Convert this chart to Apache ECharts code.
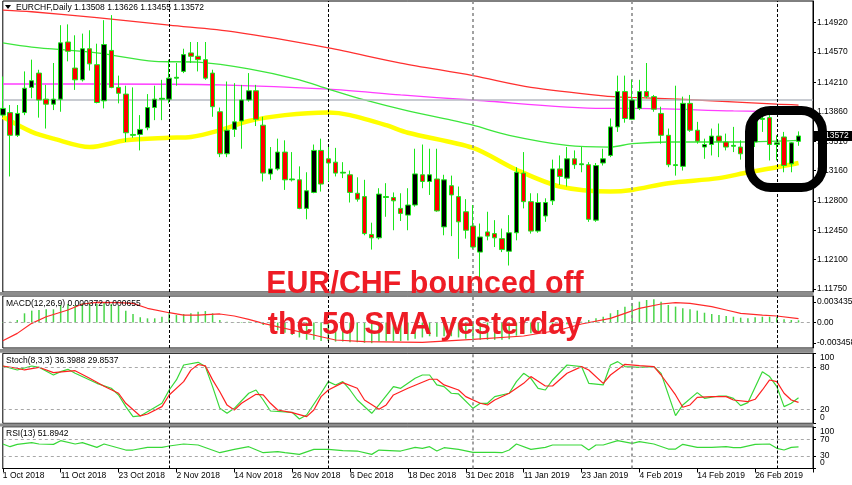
<!DOCTYPE html>
<html><head><meta charset="utf-8">
<script src="https://cdn.jsdelivr.net/npm/echarts@6/dist/echarts.min.js"></script>
<style>html,body{margin:0;padding:0;background:#fff}#c{width:852px;height:485px}</style>
</head><body><div id="c"></div>
<script>
// ---- trading days shown (category axis) ----
const monthDays = [
  ['Oct', 2018, [1,2,3,4,5,8,9,10,11,12,15,16,17,18,19,22,23,24,25,26,29,30,31]],
  ['Nov', 2018, [1,2,5,6,7,8,9,12,13,14,15,16,19,20,21,22,23,26,27,28,29,30]],
  ['Dec', 2018, [3,4,5,6,7,10,11,12,13,14,17,18,19,20,21,24,26,27,28,31]],
  ['Jan', 2019, [2,3,4,7,8,9,10,11,14,15,16,17,18,21,22,23,24,25,28,29,30,31]],
  ['Feb', 2019, [1,4,5,6,7,8,11,12,13,14,15,18,19,20,21,22,25,26,27,28]],
  ['Mar', 2019, [1,4,5,6]]
];
const dates = [];
monthDays.forEach(([m, y, days]) => days.forEach(d => dates.push(d + ' ' + m + ' ' + y)));
const categories = dates.concat(['', '']);   // chart shift on the right

// ---- EURCHF daily OHLC ----
const open = [1.1382,1.1385,1.1358,1.1385,1.1415,1.1432,1.1401,1.1395,1.1401,1.1469,
1.1438,1.1424,1.1461,1.1442,1.1399,1.1459,1.1415,1.1407,1.1358,1.1359,
1.1367,1.1391,1.1401,1.1401,1.1426,1.1434,1.1456,1.1452,1.1448,1.1432,
1.1386,1.1336,1.1365,1.1375,1.1400,1.1411,1.1370,1.1312,1.1318,1.1338,
1.1305,1.1305,1.1271,1.1290,1.1340,1.1330,1.1326,1.1313,1.1311,1.1289,
1.1285,1.1240,1.1236,1.1284,1.1284,1.1271,1.1263,1.1275,1.1311,1.1303,
1.1306,1.1249,1.1298,1.1285,1.1267,1.1250,1.1219,1.1243,1.1241,1.1235,
1.1220,1.1242,1.1313,1.1279,1.1244,1.1262,1.1280,1.1318,1.1307,1.1330,
1.1323,1.1323,1.1257,1.1325,1.1334,1.1368,1.1410,1.1377,1.1390,1.1410,
1.1404,1.1384,1.1358,1.1322,1.1321,1.1396,1.1364,1.1344,1.1347,1.1357,
1.1350,1.1345,1.1344,1.1336,1.1350,1.1377,1.1379,1.1347,1.1356,1.1324,
1.13508];
const high = [1.1428,1.1394,1.1394,1.1434,1.1448,1.1436,1.1418,1.1444,1.1489,1.1490,
1.1477,1.1479,1.1483,1.1467,1.1495,1.1501,1.1429,1.1417,1.1415,1.1382,
1.1407,1.1417,1.1424,1.1448,1.1444,1.1461,1.1469,1.1469,1.1469,1.1436,
1.1391,1.1422,1.1420,1.1418,1.1432,1.1418,1.1380,1.1344,1.1354,1.1352,
1.1338,1.1321,1.1314,1.1347,1.1354,1.1344,1.1343,1.1326,1.1316,1.1308,
1.1305,1.1254,1.1295,1.1301,1.1290,1.1289,1.1295,1.1342,1.1347,1.1342,
1.1342,1.1311,1.1310,1.1297,1.1282,1.1275,1.1253,1.1267,1.1257,1.1247,
1.1263,1.1320,1.1338,1.1289,1.1289,1.1283,1.1329,1.1334,1.1344,1.1340,
1.1344,1.1326,1.1325,1.1342,1.1378,1.1429,1.1429,1.1424,1.1424,1.1444,
1.1406,1.1392,1.1366,1.1417,1.1404,1.1406,1.1374,1.1354,1.1366,1.1372,
1.1360,1.1368,1.1352,1.1354,1.1380,1.1382,1.1382,1.1358,1.1362,1.1350,
1.13626];
const low = [1.1380,1.1309,1.1356,1.1382,1.1402,1.1379,1.1366,1.1388,1.1386,1.1446,
1.1412,1.1422,1.1435,1.1396,1.1390,1.1414,1.1396,1.1350,1.1355,1.1340,
1.1364,1.1376,1.1376,1.1396,1.1417,1.1432,1.1444,1.1434,1.1424,1.1380,
1.1332,1.1332,1.1356,1.1342,1.1398,1.1369,1.1303,1.1305,1.1316,1.1293,
1.1303,1.1270,1.1258,1.1289,1.1291,1.1303,1.1309,1.1307,1.1278,1.1279,
1.1239,1.1222,1.1234,1.1261,1.1245,1.1256,1.1245,1.1273,1.1295,1.1287,
1.1267,1.1239,1.1238,1.1211,1.1235,1.1223,1.1174,1.1233,1.1225,1.1219,
1.1203,1.1233,1.1271,1.1241,1.1242,1.1255,1.1275,1.1299,1.1297,1.1318,
1.1314,1.1255,1.1255,1.1322,1.1332,1.1362,1.1373,1.1376,1.1388,1.1402,
1.1386,1.1348,1.1320,1.1310,1.1316,1.1362,1.1348,1.1330,1.1334,1.1332,
1.1340,1.1338,1.1329,1.1332,1.1344,1.1362,1.1328,1.1328,1.1314,1.1314,
1.13455];
const close = [1.1390,1.1358,1.1384,1.1414,1.1423,1.1400,1.1395,1.1401,1.1468,1.1458,
1.1424,1.1461,1.1443,1.1397,1.1466,1.1415,1.1408,1.1361,1.1359,1.1365,
1.1391,1.1401,1.1402,1.1426,1.1427,1.1454,1.1452,1.1448,1.1426,1.1392,
1.1336,1.1364,1.1374,1.1400,1.1411,1.1377,1.1313,1.1318,1.1338,1.1305,
1.1306,1.1271,1.1292,1.1340,1.1300,1.1325,1.1313,1.1314,1.1290,1.1282,
1.1241,1.1236,1.1288,1.1285,1.1280,1.1265,1.1275,1.1312,1.1303,1.1311,
1.1268,1.1305,1.1287,1.1255,1.1245,1.1225,1.1237,1.1238,1.1236,1.1222,
1.1242,1.1314,1.1279,1.1244,1.1278,1.1278,1.1318,1.1309,1.1330,1.1323,
1.1324,1.1258,1.1322,1.1330,1.1368,1.1410,1.1378,1.1400,1.1410,1.1404,
1.1389,1.1358,1.1323,1.1323,1.1396,1.1364,1.1351,1.1347,1.1357,1.1351,
1.1344,1.1346,1.1336,1.1349,1.1378,1.1378,1.1347,1.1349,1.1322,1.1349,
1.13572];

// ---- moving averages [barIndex, price] read at their vertices ----
const maRed = [[0,1.1507],[4,1.1505],[13,1.1498],[23,1.1489],[32,1.1481],[45,1.1462],[55,1.1444],[65,1.1429],[73,1.1415],[83,1.1405],[87,1.1403],[96,1.1400],[107,1.1395],[110,1.1394]];
const maMagenta = [[0,1.1419],[13,1.1419],[30,1.1418],[45,1.1413],[55,1.1406],[65,1.1400],[83,1.1390],[87,1.1390],[101,1.1387],[110,1.1386]];
const maGreen = [[0,1.1468],[4,1.1463],[13,1.1456],[21,1.1446],[27,1.1445],[34,1.1437],[41,1.1424],[45,1.1413],[50,1.1400],[56,1.1387],[62,1.1376],[65,1.1370],[70,1.1358],[78,1.1346],[84,1.1344],[87,1.1348],[92,1.1350],[101,1.1350],[110,1.1352]];
const maYellow = [[0,1.1380],[4,1.1362],[7,1.1354],[12,1.1344],[17,1.1352],[23,1.1355],[26,1.1356],[30,1.1364],[34,1.1375],[39,1.1382],[45,1.1385],[48,1.1382],[53,1.1370],[56,1.1361],[65,1.1343],[71,1.1317],[77,1.1297],[84,1.1291],[87,1.1293],[92,1.1301],[99,1.1307],[103,1.1314],[107,1.1320],[110,1.1325]];

// ---- MACD(12,26,9) ----
const macdHist = [-0.0001,0.00014,0.00042,0.00154,0.00199,0.00210,0.00221,0.00221,0.00293,0.00310,
0.00293,0.00321,0.00333,0.00310,0.00333,0.00310,0.00277,0.00199,0.00143,0.00087,
0.00070,0.00070,0.00097,0.00154,0.00125,0.00143,0.00154,0.00182,0.00192,0.00154,
0.00042,0.00014,0.00003,0.00009,0.00014,0.00003,-0.0004,-0.0009,-0.0013,-0.0017,
-0.0021,-0.0025,-0.0029,-0.0029,-0.0031,-0.0031,-0.0032,-0.0032,-0.0033,-0.0033,
-0.0034,-0.00346,-0.0032,-0.0031,-0.0031,-0.0031,-0.0030,-0.0027,-0.0025,-0.0023,
-0.0024,-0.0023,-0.0023,-0.0025,-0.0027,-0.0028,-0.0029,-0.0029,-0.0029,-0.0029,
-0.0028,-0.0022,-0.0019,-0.0018,-0.0015,-0.0012,-0.0007,-0.0005,-0.0003,-0.0001,
0.00014,0.00042,0.00070,0.00097,0.00154,0.00210,0.00266,0.00321,0.00349,0.00377,
0.00388,0.00349,0.00293,0.00266,0.00238,0.00221,0.00199,0.00164,0.00143,0.00125,
0.00109,0.00097,0.00081,0.00070,0.00087,0.00097,0.00097,0.00087,0.00053,0.00042,
0.000372];
const macdSignal = [[0,-0.00305],[2,-0.00182],[4,-0.00014],[6,0.00097],[9,0.00210],[11,0.00310],[13,0.00338],[16,0.00333],[18,0.00321],[20,0.00238],[23,0.00164],[25,0.00125],[27,0.00125],[30,0.00143],[32,0.00109],[34,0.00053],[36,-0.00014],[44,-0.00238],[46,-0.00293],[50,-0.00321],[58,-0.00333],[65,-0.00282],[72,-0.00226],[77,-0.00125],[80,-0.00025],[84,0.00070],[86,0.00154],[88,0.00238],[91,0.00310],[93,0.00333],[95,0.00321],[98,0.00266],[100,0.00210],[102,0.00154],[105,0.00125],[107,0.00109],[110,0.000655]];

// ---- Stochastic(8,3,3) ----
const stochMain = [[0,81.9],[2,76.2],[4,81.9],[5,80],[7,69],[8,73.8],[9,77.1],[10,71.4],[13,57.1],[15,50],[16,40.5],[17,23.8],[18,9.5],[19,10.5],[22,28.6],[23,47.6],[24,61.9],[25,83.3],[27,87.1],[28,81],[29,52.4],[30,21.4],[31,14.3],[32,21.4],[34,42.9],[35,47.6],[36,33.3],[37,17.6],[40,15.7],[41,6.2],[42,11.9],[44,42.9],[45,59.5],[46,54.8],[47,59.5],[48,47.6],[49,33.3],[51,14.3],[52,26.2],[54,52.4],[55,50],[57,64.3],[58,69],[59,69],[60,54.8],[61,52.4],[62,42.9],[63,41.9],[65,21.4],[66,28.6],[67,28.6],[68,38.1],[70,42.9],[71,59.5],[72,71.4],[73,64.3],[74,50],[75,47.6],[76,61.9],[78,83.3],[80,81],[81,57.1],[83,54.8],[84,83.3],[85,88.1],[86,81],[88,80],[90,81],[91,71.4],[93,11],[94,26.2],[96,43.8],[97,35.7],[99,39],[100,39],[101,35.7],[102,25.2],[103,29.5],[105,73.8],[106,66.7],[107,52.4],[108,23.8],[109,28.6],[110,36.3988]];
const stochSignal = [[0,81.9],[2,78.6],[3,76.2],[5,80],[7,72.4],[10,75.2],[12,64.3],[14,53],[16,42.9],[17,28.6],[19,10.5],[20,13.3],[22,23.8],[23,40.5],[25,59.5],[26,76],[27,84],[28,82],[29,62],[30,45],[31,26],[32,19],[33,28.6],[35,41.4],[36,40.5],[37,28.6],[38,19],[40,15.2],[42,9.5],[43,19],[44,38.1],[45,47.6],[47,58.1],[49,50],[50,33.3],[52,20],[53,26.2],[54,40.5],[56,50],[59,62.9],[60,62.9],[61,54.8],[63,47.6],[64,38.1],[66,28.6],[67,26.2],[68,33.3],[70,42.9],[72,57.1],[73,66.7],[75,53.3],[76,53.3],[78,71.4],[80,81],[81,76.2],[83,57.1],[84,69],[86,84.3],[88,82.4],[90,81],[91,69],[93,40.5],[94,22.9],[95,26.2],[96,37.1],[98,38.1],[100,38.1],[101,33.3],[103,31],[104,34.3],[105,47.6],[106,61.9],[107,59.5],[108,42.9],[109,33.3],[110,29.8537]];

// ---- RSI(13) ----
const rsi = [[0,58.7],[1,52.3],[2,57.9],[4,61.9],[5,58.7],[7,57.9],[8,66.7],[10,58.7],[11,61.9],[13,50.7],[14,58.7],[17,44.3],[18,44.3],[20,50.7],[22,50.7],[23,53.9],[25,58.7],[27,56.3],[30,37.9],[32,45.9],[34,52.3],[36,37.9],[38,40.3],[39,37.9],[41,33.9],[43,45.9],[45,45.9],[47,42.7],[49,41.9],[51,33.9],[52,44.3],[55,41.9],[57,50.7],[58,48.3],[59,52.3],[60,41.9],[61,49.9],[63,45.9],[65,38.7],[68,38.7],[69,37.9],[70,44.3],[71,58.7],[73,45.9],[75,50.7],[76,56.3],[78,56.3],[80,56.3],[81,44.3],[82,56.3],[83,56.3],[85,66.7],[87,60.3],[88,64.3],[90,58.7],[92,46.7],[93,46.7],[94,57.9],[96,50.7],[98,50.7],[100,52.3],[101,49.9],[102,49.9],[104,57.9],[106,58.7],[107,48.3],[108,44.3],[109,50.7],[110,51.8942]];

// ---- ticks / levels / texts ----
const priceTicks = [1.14920,1.14570,1.14210,1.13860,1.13510,1.13160,1.12800,1.12450,1.12100,1.11750];
const macdTicks = [0.003435, 0, -0.003458];
const macdTickLabels = ['0.003435', '0.00', '-0.003458'];
const stochTicks = [100, 80, 20, 0];
const rsiTicks = [100, 70, 30, 0];
const stochLevels = [80, 20];
const rsiLevels = [70, 30];
const separatorBars = [23, 45, 65, 87, 107];
const separatorKinds = ['dark', 'dark', 'grey', 'grey', 'dark'];
const lastClose = close[close.length - 1];
const mainTitle = 'EURCHF,Daily 1.13508 1.13626 1.13455 1.13572';
const macdTitle = 'MACD(12,26,9) 0.000372 0.000655';
const stochTitle = 'Stoch(8,3,3) 36.3988 29.8537';
const rsiTitle = 'RSI(13) 51.8942';
const headline = ['EUR/CHF bounced off', 'the 50 SMA yesterday'];

// ---------------------------------------------------------------
const FONT = '"Liberation Sans", Arial, sans-serif';
const FS = 8.5;
const candles = open.map((o, i) => [o, close[i], low[i], high[i]]);

const sepLines = separatorBars.map((b, k) => ({
  xAxis: categories[b],
  lineStyle: separatorKinds[k] === 'dark'
    ? { color: '#000', type: [3, 2], width: 1 }
    : { color: '#8a8a8a', type: [3, 3], width: 1.6 }
}));
const levelLines = lv => lv.map(v => ({ yAxis: v, lineStyle: { color: '#a8a8a8', type: [3, 3], width: 1 } }));
const ml = data => ({ silent: true, symbol: ['none', 'none'], label: { show: false }, animation: false, data });

const L = 2.8, R = 39;
const grids = [
  { top: 1, height: 291 },
  { top: 296, height: 52 },
  { top: 353.3, height: 70 },
  { top: 426.8, height: 41.7 }
].map(g => Object.assign({ left: L, right: R, show: true, borderColor: '#000', borderWidth: 1, backgroundColor: '#fff',
  containLabel: false, outerBoundsMode: 'none' }, g));

const xAxes = [0, 1, 2, 3].map(g => ({
  type: 'category', gridIndex: g, data: categories, boundaryGap: false,
  axisLine: { show: g === 3, lineStyle: { color: '#000', width: 1 } },
  axisTick: { show: g === 3, interval: 7, length: 4, lineStyle: { color: '#000' } },
  axisLabel: { show: g === 3, interval: 7, align: 'left', fontSize: FS, color: '#000', margin: 3, fontFamily: FONT },
  splitLine: { show: false }
}));

const yBase = (g, extra) => Object.assign({
  type: 'value', gridIndex: g, position: 'right', splitLine: { show: false },
  axisLine: { show: true, lineStyle: { color: '#000', width: 1 } },
}, extra);

const labelCommon = { fontSize: FS, color: '#000', margin: 4, fontFamily: FONT, hideOverlap: false, showMinLabel: true, showMaxLabel: true };
const tickOf = vals => ({ show: true, length: 3, customValues: vals, lineStyle: { color: '#000' } });

const yAxes = [
  yBase(0, { min: 1.11715, max: 1.15178, axisTick: tickOf(priceTicks),
    axisLabel: Object.assign({ customValues: priceTicks, formatter: v => v.toFixed(5) }, labelCommon) }),
  yBase(1, { min: -0.00427, max: 0.00444, axisTick: tickOf(macdTicks),
    axisLabel: Object.assign({ customValues: macdTicks,
      formatter: v => { let best = 0; macdTicks.forEach((t, i) => { if (Math.abs(t - v) < Math.abs(macdTicks[best] - v)) best = i; }); return macdTickLabels[best]; } }, labelCommon) }),
  yBase(2, { min: 0, max: 100, axisTick: tickOf(stochTicks), axisLabel: { show: false } }),
  yBase(3, { min: 0, max: 100, axisTick: tickOf(rsiTicks), axisLabel: { show: false } })
];

const maLine = (data, color, width) => ({
  type: 'line', xAxisIndex: 0, yAxisIndex: 0, data, symbol: 'none', smooth: 0.3,
  lineStyle: { color, width }, z: 2, silent: true
});

const series = [
  maLine(maRed, '#ff3030', 1.3),
  maLine(maMagenta, '#ff3cff', 1.3),
  maLine(maGreen, '#3ce63c', 1.3),
  maLine(maYellow, '#ffff00', 4.5),
  {
    type: 'candlestick', xAxisIndex: 0, yAxisIndex: 0, data: candles, barWidth: 5, z: 5,
    itemStyle: { color: '#000', color0: '#ff0000', borderColor: '#19e619', borderColor0: '#19e619', borderColorDoji: '#19e619', borderWidth: 1 },
    markLine: ml([
      { yAxis: lastClose, lineStyle: { color: '#b6bac2', type: 'solid', width: 1.5 } }
    ].concat(sepLines))
  },
  {
    type: 'bar', xAxisIndex: 1, yAxisIndex: 1, data: macdHist, barWidth: 1.5, silent: true,
    itemStyle: { color: '#49d449' },
    markLine: ml(levelLines([0]).concat(sepLines))
  },
  { type: 'line', xAxisIndex: 1, yAxisIndex: 1, data: macdSignal, symbol: 'none', lineStyle: { color: '#ff2a2a', width: 1.2 }, silent: true },
  {
    type: 'line', xAxisIndex: 2, yAxisIndex: 2, data: stochMain, symbol: 'none', lineStyle: { color: '#38d838', width: 1.2 }, silent: true,
    markLine: ml(levelLines(stochLevels).concat(sepLines))
  },
  { type: 'line', xAxisIndex: 2, yAxisIndex: 2, data: stochSignal, symbol: 'none', lineStyle: { color: '#ff2020', width: 1.2 }, silent: true },
  {
    type: 'line', xAxisIndex: 3, yAxisIndex: 3, data: rsi, symbol: 'none', lineStyle: { color: '#38d838', width: 1.2 }, silent: true,
    markLine: ml(levelLines(rsiLevels).concat(sepLines))
  }
];

const smallText = (text, x, y, z) => ({
  type: 'text', x, y, z: z || 50, silent: true,
  style: { text, fill: '#000', fontSize: FS, fontFamily: FONT, verticalAlign: 'middle' }
});
const bigText = (text, y) => ({
  type: 'text', x: 425, y, z: 60, scaleX: 0.95, silent: true,
  style: { text, fill: '#ee1c25', fontSize: 32, fontWeight: 'bold', fontFamily: FONT, align: 'center', verticalAlign: 'middle' }
});
const band = (y, h) => ({ type: 'rect', z: 40, silent: true, shape: { x: 0, y, width: 813.5, height: h }, style: { fill: '#8c8c8c' } });

const chart = echarts.init(document.getElementById('c'));
chart.setOption({
  animation: false,
  backgroundColor: '#fff',
  grid: grids, xAxis: xAxes, yAxis: yAxes, series
});

// oscillator scale labels and bid tag, positioned through the axes
const bidY = chart.convertToPixel({ yAxisIndex: 0 }, lastClose);
const gridRight = 852 - R;
const labelX = gridRight + 7;
const oscLabels = [];
[[2, stochTicks], [3, rsiTicks]].forEach(([ax, ticks]) => ticks.forEach(v => {
  // MT4 pulls the 100 / 0 labels inside the pane
  const shift = v === 100 ? 4.5 : (v === 0 ? -5.5 : 0);
  const y = chart.convertToPixel({ yAxisIndex: ax }, v) + shift;
  oscLabels.push(smallText(String(v), labelX, y, 80));
}));

const graphic = [
  band(292, 3.5), band(349, 3.8), band(423.4, 3.2),
  { type: 'polygon', z: 50, silent: true, shape: { points: [[5, 5], [11, 5], [8, 9]] }, style: { fill: '#000' } },
  smallText(mainTitle, 16, 7.5),
  smallText(macdTitle, 6, 303.5),
  smallText(stochTitle, 6, 361),
  smallText(rsiTitle, 6, 433.5),
  { type: 'rect', z: 55, silent: true, shape: { x: gridRight, y: bidY - 5, width: 852 - gridRight, height: 10 }, style: { fill: '#000' } },
  { type: 'text', z: 56, silent: true, x: gridRight + 5, y: bidY,
    style: { text: lastClose.toFixed(5), fill: '#fff', fontSize: FS, fontFamily: FONT, verticalAlign: 'middle' } },
  bigText(headline[0], 284),
  bigText(headline[1], 325.5),
  { type: 'rect', z: 70, silent: true, shape: { x: 749.5, y: 110.5, width: 73, height: 77, r: 21 },
    style: { fill: 'none', stroke: '#000', lineWidth: 9 } }
].concat(oscLabels);
chart.setOption({ graphic });
</script></body></html>
